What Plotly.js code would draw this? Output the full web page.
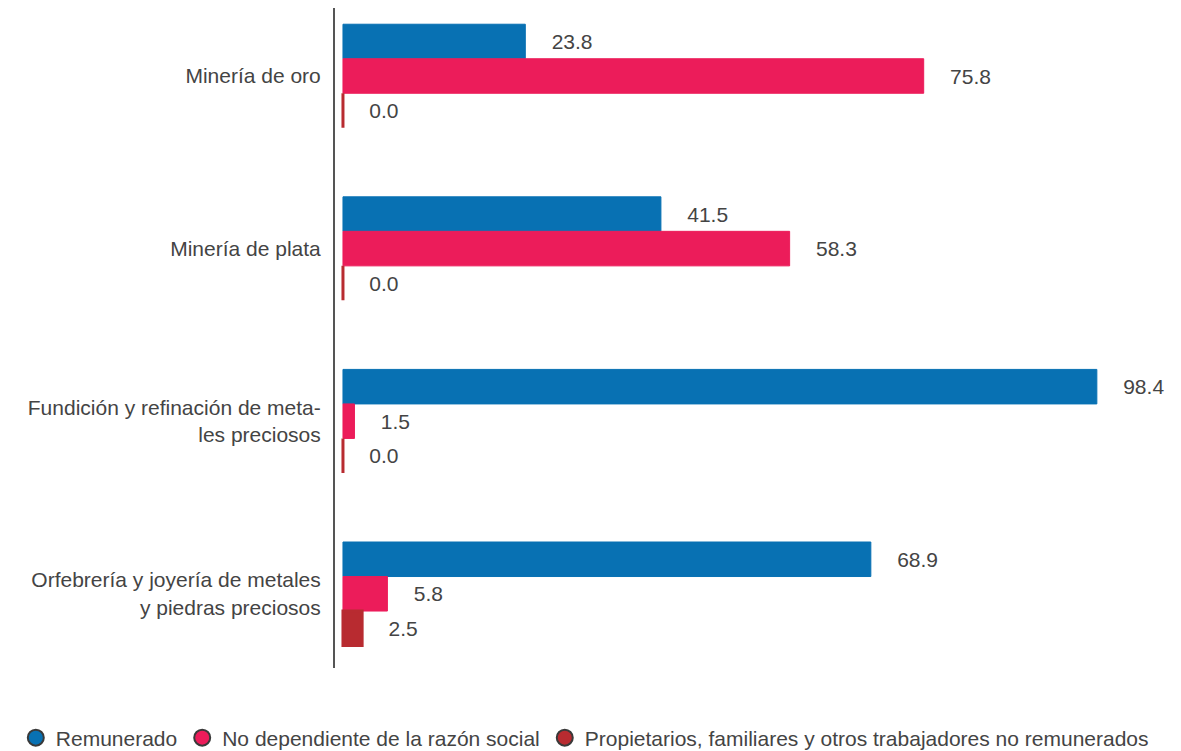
<!DOCTYPE html>
<html>
<head>
<meta charset="utf-8">
<script src="https://cdn.plot.ly/plotly-3.0.1.min.js"></script>
<style>html,body{margin:0;padding:0;background:#fff;}#chart{width:1181px;height:751px;}</style>
</head>
<body>
<div id="chart"></div>
<script>
const categories = [
  "Minería de oro",
  "Minería de plata",
  "Fundición y refinación de meta-<br>les preciosos",
  "Orfebrería y joyería de metales<br>y piedras preciosos"
];
const seriesNames = [
  "Remunerado",
  "No dependiente de la razón social",
  "Propietarios, familiares y otros trabajadores no remunerados"
];
const remunerado = [23.8, 41.5, 98.4, 68.9];
const noDependiente = [75.8, 58.3, 1.5, 5.8];
const propietarios = [0.0, 0.0, 0.0, 2.5];
const colors = ["#0871B3", "#EC1C5A", "#B82B30"];

const FONT = "Liberation Sans, Arial, Helvetica, sans-serif";
const TXT = "#444444";
const pad = "\u00a0\u00a0\u00a0\u00a0";
const outlineWidths = [1, 1, 3];

const values = [remunerado, noDependiente, propietarios];
const data = [];
values.forEach((v, i) => {
  data.push({
    type: "bar",
    orientation: "h",
    y: categories,
    x: v,
    name: seriesNames[i],
    showlegend: false,
    marker: { color: colors[i], line: { color: colors[i], width: outlineWidths[i] } },
    texttemplate: pad + "%{x:.1f}",
    textposition: "outside",
    cliponaxis: false,
    textfont: { family: FONT, size: 21, color: TXT },
    hoverinfo: "x+name"
  });
});
seriesNames.forEach((n, i) => {
  data.push({
    type: "scatter",
    mode: "markers",
    x: [null],
    y: [null],
    name: n,
    showlegend: true,
    marker: { symbol: "circle", size: 22, color: colors[i], line: { color: "#3a3a3a", width: 2 } }
  });
});

const layout = {
  width: 1181,
  height: 751,
  paper_bgcolor: "#ffffff",
  plot_bgcolor: "#ffffff",
  font: { family: FONT, size: 21, color: TXT },
  margin: { l: 335, r: 6, t: 8, b: 83, pad: 0, autoexpand: false },
  barmode: "group",
  bargap: 0.4,
  bargroupgap: 0,
  showlegend: true,
  legend: {
    orientation: "h",
    x: -0.38,
    xanchor: "left",
    y: -0.075,
    yanchor: "top",
    font: { family: FONT, size: 21, color: TXT },
    itemsizing: "trace",
    tracegroupgap: 0,
    bgcolor: "rgba(0,0,0,0)"
  },
  xaxis: {
    range: [-1.04, 108.6],
    showgrid: false,
    zeroline: false,
    showline: false,
    showticklabels: false,
    ticks: "",
    fixedrange: true
  },
  yaxis: {
    type: "category",
    categoryorder: "array",
    categoryarray: categories,
    range: [3.43, -0.394],
    showgrid: false,
    zeroline: false,
    showline: true,
    linecolor: "#555555",
    linewidth: 2,
    ticks: "outside",
    ticklen: 8,
    tickcolor: "rgba(0,0,0,0)",
    tickfont: { family: FONT, size: 21, color: TXT },
    fixedrange: true
  }
};

Plotly.newPlot("chart", data, layout, { displayModeBar: false, staticPlot: true });
</script>
</body>
</html>
